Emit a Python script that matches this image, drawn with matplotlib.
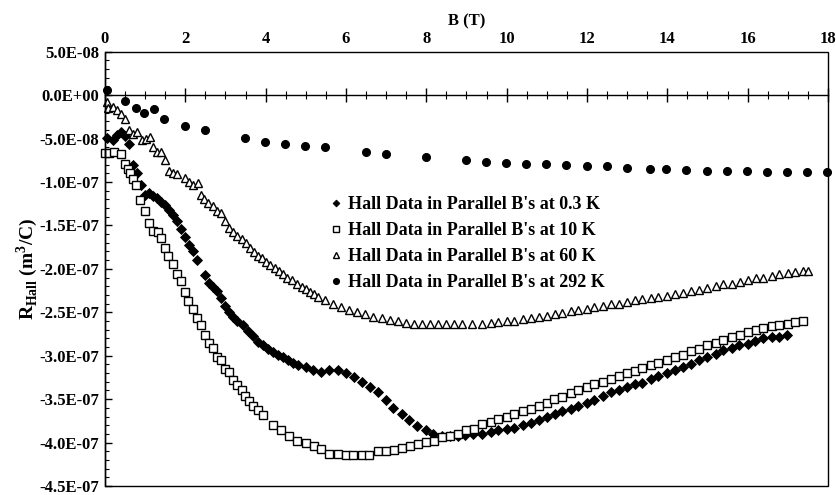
import numpy as np
import matplotlib
matplotlib.use("Agg")
import matplotlib.pyplot as plt
from matplotlib.ticker import MultipleLocator, FuncFormatter
from matplotlib.patches import Rectangle

plt.rcParams['font.family'] = ['Liberation Serif', 'DejaVu Serif']
plt.rcParams['font.weight'] = 'bold'
plt.rcParams['axes.labelweight'] = 'bold'
plt.rcParams['mathtext.fontset'] = 'custom'
plt.rcParams['mathtext.rm'] = 'Liberation Serif:bold'
plt.rcParams['mathtext.bf'] = 'Liberation Serif:bold'

SCALE = 1e-7  # values below are in units of 1e-7 m^3/C

# 0.3 K
b_03 = [0.06, 0.2, 0.3, 0.4, 0.5, 0.6, 0.7, 0.8, 0.9, 1.0, 1.1, 1.2, 1.3, 1.4, 1.5, 1.6, 1.7, 1.8, 1.9, 2.0,
        2.1, 2.2, 2.3, 2.49, 2.6, 2.7, 2.78, 2.89, 2.99, 3.09, 3.19, 3.29, 3.43, 3.57, 3.69, 3.82, 3.94, 4.07,
        4.19, 4.31, 4.44, 4.55, 4.67, 4.81, 5.0, 5.19, 5.38, 5.58, 5.79, 6.0, 6.2, 6.39, 6.6, 6.79, 6.99, 7.18,
        7.39, 7.58, 7.78, 7.98, 8.17, 8.38, 8.59, 8.78, 8.96, 9.17, 9.39, 9.6, 9.79, 10.0, 10.19, 10.4, 10.6,
        10.8, 11.0, 11.2, 11.39, 11.59, 11.78, 11.99, 12.18, 12.39, 12.59, 12.8, 12.99, 13.19, 13.38, 13.59,
        13.77, 13.98, 14.19, 14.4, 14.59, 14.79, 14.99, 15.2, 15.39, 15.6, 15.79, 16.0, 16.18, 16.39, 16.6,
        16.79, 16.97]
r_03 = [-0.49, -0.52, -0.46, -0.43, -0.47, -0.565, -0.80, -0.90, -1.04, -1.15, -1.13, -1.165, -1.19, -1.23,
        -1.26, -1.32, -1.38, -1.45, -1.54, -1.63, -1.73, -1.80, -1.90, -2.07, -2.16, -2.21, -2.26, -2.33, -2.43,
        -2.50, -2.55, -2.60, -2.65, -2.71, -2.77, -2.84, -2.88, -2.92, -2.96, -2.99, -3.02, -3.05, -3.08, -3.11,
        -3.13, -3.16, -3.19, -3.17, -3.17, -3.20, -3.24, -3.30, -3.36, -3.42, -3.51, -3.60, -3.67, -3.74, -3.81,
        -3.86, -3.90, -3.93, -3.93, -3.93, -3.91, -3.90, -3.90, -3.88, -3.86, -3.84, -3.83, -3.80, -3.77, -3.74,
        -3.71, -3.67, -3.64, -3.61, -3.58, -3.55, -3.51, -3.46, -3.42, -3.39, -3.36, -3.33, -3.31, -3.27, -3.23,
        -3.20, -3.16, -3.13, -3.09, -3.05, -3.02, -2.98, -2.94, -2.91, -2.88, -2.86, -2.83, -2.80, -2.79, -2.78,
        -2.76]

# 10 K
b_10 = [0.0, 0.11, 0.23, 0.41, 0.5, 0.57, 0.62, 0.70, 0.77, 0.87, 1.0, 1.10, 1.20, 1.31, 1.39, 1.49, 1.58,
        1.69, 1.79, 1.88, 1.99, 2.07, 2.18, 2.28, 2.38, 2.49, 2.59, 2.70, 2.78, 2.89, 2.99, 3.09, 3.19, 3.29,
        3.40, 3.49, 3.58, 3.69, 3.82, 3.94, 4.19, 4.39, 4.58, 4.79, 5.0, 5.2, 5.39, 5.58, 5.79, 5.99, 6.18,
        6.39, 6.58, 6.79, 6.99, 7.2, 7.4, 7.59, 7.79, 7.98, 8.19, 8.38, 8.59, 8.79, 9.0, 9.18, 9.39, 9.6, 9.79,
        10.0, 10.19, 10.4, 10.6, 10.8, 11.0, 11.19, 11.39, 11.59, 11.78, 11.99, 12.18, 12.39, 12.59, 12.8,
        12.99, 13.19, 13.38, 13.59, 13.77, 13.98, 14.19, 14.4, 14.6, 14.79, 15.0, 15.21, 15.39, 15.6, 15.81,
        16.0, 16.2, 16.39, 16.6, 16.79, 17.0, 17.19, 17.38]
r_10 = [-0.67, -0.67, -0.65, -0.68, -0.79, -0.85, -0.90, -0.97, -1.03, -1.21, -1.33, -1.47, -1.56, -1.58,
        -1.64, -1.76, -1.85, -1.94, -2.06, -2.14, -2.27, -2.37, -2.46, -2.57, -2.65, -2.76, -2.85, -2.91, -3.01,
        -3.05, -3.15, -3.19, -3.28, -3.34, -3.40, -3.46, -3.52, -3.58, -3.63, -3.68, -3.80, -3.86, -3.92, -3.98,
        -4.01, -4.04, -4.07, -4.13, -4.13, -4.14, -4.14, -4.14, -4.14, -4.10, -4.10, -4.09, -4.06, -4.04, -4.02,
        -3.99, -3.98, -3.94, -3.92, -3.90, -3.86, -3.84, -3.79, -3.76, -3.73, -3.70, -3.67, -3.64, -3.61, -3.58,
        -3.54, -3.50, -3.47, -3.43, -3.40, -3.36, -3.33, -3.30, -3.27, -3.23, -3.20, -3.18, -3.14, -3.11, -3.08,
        -3.05, -3.02, -2.99, -2.95, -2.92, -2.88, -2.85, -2.82, -2.79, -2.76, -2.73, -2.70, -2.68, -2.66, -2.65,
        -2.63, -2.61, -2.60]

# 60 K
b_60 = [0.06, 0.08, 0.19, 0.29, 0.39, 0.5, 0.6, 0.69, 0.80, 0.91, 1.01, 1.12, 1.19, 1.29, 1.39, 1.49, 1.59,
        1.70, 1.80, 1.99, 2.09, 2.20, 2.31, 2.38, 2.47, 2.57, 2.68, 2.78, 2.88, 2.99, 3.09, 3.19, 3.29, 3.40,
        3.50, 3.61, 3.72, 3.82, 3.92, 4.02, 4.12, 4.23, 4.33, 4.44, 4.54, 4.65, 4.77, 4.90, 5.00, 5.10, 5.21,
        5.31, 5.48, 5.68, 5.88, 6.08, 6.28, 6.47, 6.68, 6.89, 7.09, 7.29, 7.49, 7.70, 7.88, 8.09, 8.28, 8.48,
        8.69, 8.88, 9.14, 9.39, 9.60, 9.79, 10.0, 10.19, 10.4, 10.6, 10.8, 11.0, 11.2, 11.39, 11.59, 11.78,
        11.99, 12.18, 12.39, 12.59, 12.8, 12.99, 13.19, 13.38, 13.59, 13.77, 13.98, 14.19, 14.4, 14.59, 14.79,
        15.0, 15.2, 15.39, 15.6, 15.81, 16.0, 16.2, 16.39, 16.6, 16.79, 17.0, 17.19, 17.38, 17.51]
r_60 = [-0.08, -0.15, -0.14, -0.17, -0.22, -0.27, -0.40, -0.45, -0.42, -0.52, -0.50, -0.48, -0.60, -0.65,
        -0.66, -0.75, -0.87, -0.90, -0.91, -0.95, -1.0, -1.04, -1.01, -1.15, -1.20, -1.24, -1.28, -1.33, -1.36,
        -1.45, -1.53, -1.58, -1.62, -1.66, -1.70, -1.76, -1.81, -1.85, -1.88, -1.92, -1.96, -1.99, -2.03, -2.06,
        -2.10, -2.13, -2.17, -2.21, -2.23, -2.27, -2.29, -2.32, -2.36, -2.40, -2.44, -2.47, -2.50, -2.52, -2.55,
        -2.57, -2.59, -2.60, -2.62, -2.63, -2.64, -2.64, -2.64, -2.64, -2.64, -2.64, -2.63, -2.63, -2.62, -2.61,
        -2.60, -2.60, -2.58, -2.57, -2.55, -2.54, -2.52, -2.51, -2.49, -2.47, -2.46, -2.44, -2.43, -2.41, -2.40,
        -2.38, -2.36, -2.35, -2.33, -2.32, -2.31, -2.29, -2.28, -2.26, -2.24, -2.22, -2.20, -2.18, -2.17, -2.15,
        -2.13, -2.11, -2.10, -2.08, -2.06, -2.05, -2.04, -2.03, -2.02]

# 292 K
b_292 = [0.06, 0.5, 0.77, 0.98, 1.23, 1.48, 1.99, 2.49, 3.49, 3.98, 4.48, 4.98, 5.48, 6.49, 6.99, 7.98, 8.99,
         9.48, 9.98, 10.48, 10.98, 11.48, 11.99, 12.49, 12.99, 13.58, 13.97, 14.46, 14.98, 15.48, 15.98, 16.49,
         16.98, 17.47, 17.97]
r_292 = [0.058, -0.07, -0.153, -0.20, -0.16, -0.28, -0.35, -0.396, -0.49, -0.54, -0.56, -0.59, -0.60, -0.66,
         -0.68, -0.71, -0.75, -0.765, -0.777, -0.796, -0.796, -0.81, -0.815, -0.82, -0.84, -0.846, -0.846,
         -0.857, -0.869, -0.877, -0.877, -0.884, -0.884, -0.884, -0.884]

labels = ["Hall Data in Parallel B's at 0.3 K",
          "Hall Data in Parallel B's at 10 K",
          "Hall Data in Parallel B's at 60 K",
          "Hall Data in Parallel B's at 292 K"]

fig = plt.figure(figsize=(8.37, 4.95), dpi=100)
ax = fig.add_axes([105 / 837, 1 - 486 / 495, (828 - 105) / 837, (486 - 51.7) / 495])

common = dict(linestyle='none', clip_on=False, markeredgecolor='black')
ax.plot(b_03, np.array(r_03) * SCALE, marker='D', ms=4.6, color='black', mew=0.6, label=labels[0], **common)
ax.plot(b_10, np.array(r_10) * SCALE, marker='s', ms=6.0, markerfacecolor='white', mew=1.0,
        label=labels[1], **common)
ax.plot(b_60, np.array(r_60) * SCALE, marker='^', ms=6.0, markerfacecolor='white', mew=1.0,
        label=labels[2], **common)
ax.plot(b_292, np.array(r_292) * SCALE, marker='o', ms=5.5, color='black', label=labels[3], **common)

ax.set_xlim(0, 18)
ax.set_ylim(-4.5e-7, 0.5e-7)

# horizontal axis runs through zero; outer frame drawn as a separate box
for s in ('top', 'right'):
    ax.spines[s].set_visible(False)
ax.spines['bottom'].set_position(('data', 0))
ax.spines['bottom'].set_linewidth(1.0)
ax.spines['left'].set_linewidth(1.0)
ax.add_patch(Rectangle((0, 0), 1, 1, transform=ax.transAxes, fill=False, lw=1.0,
                       edgecolor='black', zorder=5, clip_on=False))

ax.xaxis.set_major_locator(MultipleLocator(2))
ax.xaxis.set_minor_locator(MultipleLocator(0.5))
ax.tick_params(axis='x', which='major', direction='inout', length=10, width=1.0,
               bottom=True, top=False, labelbottom=False, labeltop=True, labelsize=12, pad=-1.5)
ax.tick_params(axis='x', which='minor', direction='inout', length=6, width=0.8,
               bottom=True, top=False)
ax.xaxis.set_label_position('top')
ax.set_xlabel('B (T)', fontsize=12, fontweight='bold', labelpad=4)

ax.yaxis.set_major_locator(MultipleLocator(5e-8))
ax.yaxis.set_minor_locator(MultipleLocator(1e-8))
ax.yaxis.set_major_formatter(FuncFormatter(lambda v, p: '%.1E' % (0.0 if abs(v) < 1e-12 else v)))
ax.tick_params(axis='y', which='major', direction='in', length=5, width=1.0, labelsize=12, pad=4,
               right=False)
ax.tick_params(axis='y', which='minor', direction='in', length=3, width=0.8, right=False)
plt.setp(ax.get_xticklabels(), fontweight='bold')
plt.setp(ax.get_yticklabels(), fontweight='bold')

ax.set_ylabel(r'R$_{\mathrm{Hall}}$ (m$^{\mathrm{3}}$/C)', fontsize=14, fontweight='bold', labelpad=0)

leg = ax.legend(loc='upper left', bbox_to_anchor=(0.312, 0.668), frameon=False,
                prop={'family': 'Liberation Serif', 'weight': 'bold', 'size': 13},
                handlelength=0.6, handletextpad=0.35, labelspacing=0.5, markerscale=0.75,
                borderaxespad=0, borderpad=0)

fig.savefig('out.png', dpi=100)
